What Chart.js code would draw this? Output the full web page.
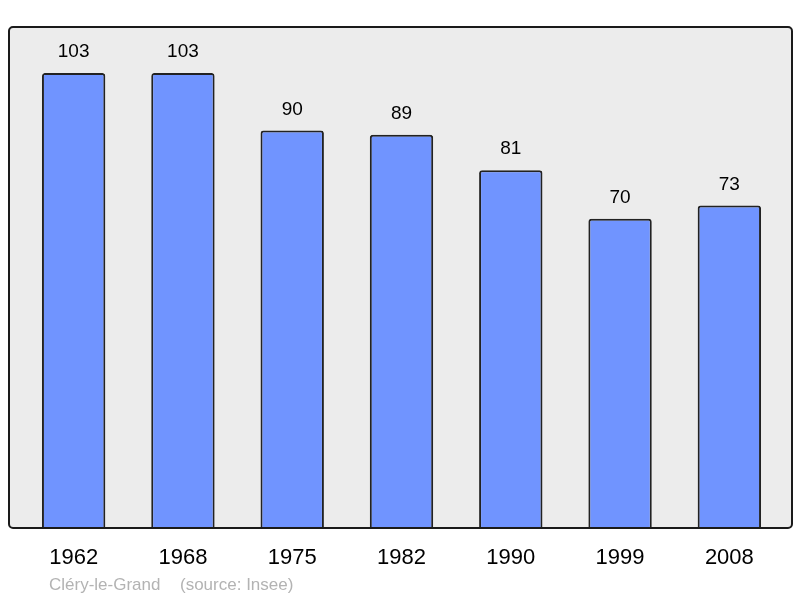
<!DOCTYPE html>
<html>
<head>
<meta charset="utf-8">
<script src="https://cdn.jsdelivr.net/npm/chart.js@4/dist/chart.umd.min.js"></script>
<style>
  html, body { margin: 0; padding: 0; background: #fff; }
  canvas { display: block; }
</style>
</head>
<body>
<canvas id="graph" width="800" height="598"></canvas>
<script>
const years = ["1962", "1968", "1975", "1982", "1990", "1999", "2008"];
const population = [103, 103, 90, 89, 81, 70, 73];
const townName = "Cléry-le-Grand";
const sourceText = "(source: Insee)";

// cadre gris + libellés dessinés autour de la zone du graphique
function frame(ctx, a) {
  ctx.beginPath();
  ctx.roundRect(a.left - 10, a.top, (a.right - a.left) + 18, a.bottom - a.top, 4);
}

const decor = {
  id: 'decor',
  beforeDraw(chart) {
    const ctx = chart.ctx;
    ctx.save();
    frame(ctx, chart.chartArea);
    ctx.fillStyle = '#ececec';
    ctx.fill();
    ctx.restore();
  },
  afterDraw(chart) {
    const ctx = chart.ctx;
    const a = chart.chartArea;
    ctx.save();
    frame(ctx, a);
    ctx.lineWidth = 2;
    ctx.strokeStyle = '#1a1a1a';
    ctx.stroke();

    const meta = chart.getDatasetMeta(0);
    ctx.fillStyle = '#000';
    ctx.textAlign = 'center';
    ctx.textBaseline = 'middle';
    ctx.font = '19px "Liberation Sans", Arial, sans-serif';
    meta.data.forEach((bar, k) => {
      ctx.fillText(String(population[k]), bar.x, bar.y - 21);
    });
    ctx.font = '22px "Liberation Sans", Arial, sans-serif';
    const xs = chart.scales.x;
    years.forEach((y, k) => {
      ctx.fillText(y, xs.getPixelForValue(k), a.bottom + 30);
    });
    ctx.textAlign = 'left';
    ctx.fillStyle = '#b3b3b3';
    ctx.font = '17px "Liberation Sans", Arial, sans-serif';
    ctx.fillText(townName, 49, a.bottom + 57);
    ctx.fillText(sourceText, 180, a.bottom + 57);
    ctx.restore();
  }
};

const myChart = new Chart(document.getElementById("graph").getContext('2d'), {
  type: 'bar',
  data: {
    labels: years,
    datasets: [{
      data: population,
      backgroundColor: '#7094ff',
      borderColor: '#222',
      borderWidth: 2,
      borderRadius: { topLeft: 3, topRight: 3 },
      borderSkipped: 'bottom',
      barPercentage: 0.58,
      categoryPercentage: 1
    }]
  },
  options: {
    responsive: false,
    animation: false,
    devicePixelRatio: 1,
    layout: { padding: { left: 19, right: 16, top: 27, bottom: 70 } },
    scales: {
      x: { display: false },
      y: { display: false, min: 0, max: 113.4 }
    },
    plugins: {
      legend: { display: false },
      tooltip: { enabled: false }
    }
  },
  plugins: [decor]
});
</script>
</body>
</html>
